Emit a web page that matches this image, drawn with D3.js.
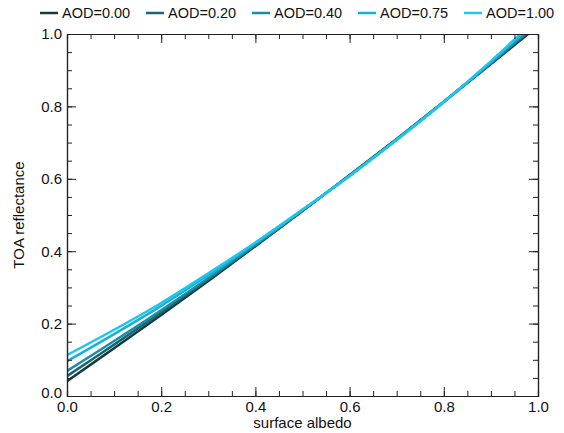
<!DOCTYPE html>
<html>
<head>
<meta charset="utf-8">
<script src="https://cdn.jsdelivr.net/npm/d3@7"></script>
<style>
  body { margin: 0; background: #fff; }
  svg { display: block; font-family: "Liberation Sans", Arial, sans-serif; }
</style>
</head>
<body>
<svg id="chart" width="564" height="433"></svg>
<script>
// surface albedo samples
const albedo = [0.0, 0.1, 0.2, 0.3, 0.4, 0.5, 0.6, 0.7, 0.8, 0.9, 1.0];

// TOA reflectance, one list per AOD
const aodLabels = ['AOD=0.00', 'AOD=0.20', 'AOD=0.40', 'AOD=0.75', 'AOD=1.00'];
const toa000 = [0.041, 0.132, 0.224, 0.318, 0.414, 0.511, 0.610, 0.710, 0.813, 0.917, 1.022];
const toa020 = [0.055, 0.142, 0.231, 0.322, 0.416, 0.512, 0.610, 0.709, 0.813, 0.919, 1.027];
const toa040 = [0.069, 0.152, 0.237, 0.326, 0.418, 0.513, 0.609, 0.709, 0.813, 0.920, 1.031];
const toa075 = [0.096, 0.171, 0.249, 0.334, 0.422, 0.514, 0.608, 0.708, 0.812, 0.923, 1.040];
const toa100 = [0.113, 0.183, 0.257, 0.339, 0.424, 0.515, 0.608, 0.707, 0.812, 0.925, 1.046];
const seriesColors = ['#133c3c', '#1b6472', '#1b8ca8', '#14b2d8', '#1cc6ee'];

const majorTicks = [0.0, 0.2, 0.4, 0.6, 0.8, 1.0];
const minorTicks = d3.range(0, 1.0001, 0.05);

const series = [toa000, toa020, toa040, toa075, toa100].map((vals, i) => ({
  label: aodLabels[i],
  color: seriesColors[i],
  points: vals.map((v, j) => ({x: albedo[j], y: v}))
}));

const margin = {top: 34, right: 26, bottom: 37, left: 67};
const width = 564, height = 433;

const xScale = d3.scaleLinear().domain([0, 1]).range([margin.left, width - margin.right]);
const yScale = d3.scaleLinear().domain([0, 1]).range([height - margin.bottom, margin.top]);

const svg = d3.select('#chart');

svg.append('defs').append('clipPath').attr('id', 'plotClip')
  .append('rect')
  .attr('x', xScale(0)).attr('y', yScale(1))
  .attr('width', xScale(1) - xScale(0)).attr('height', yScale(0) - yScale(1));

// curves
const line = d3.line().x(d => xScale(d.x)).y(d => yScale(d.y)).curve(d3.curveCatmullRom);

svg.append('g').attr('clip-path', 'url(#plotClip)')
  .selectAll('path').data(series)
  .join('path')
  .attr('fill', 'none')
  .attr('stroke', d => d.color)
  .attr('stroke-width', 2.5)
  .attr('d', d => line(d.points));

// axes: ticks pointing inward on all four sides
const tickMajor = 9, tickMinor = 5;
const fmt = d3.format('.1f');

function drawAxis(gen, pos, withLabels) {
  const gMinor = svg.append('g').attr('transform', pos);
  gMinor.call(gen.tickValues(minorTicks).tickSize(-tickMinor).tickFormat(''));
  const gMajor = svg.append('g').attr('transform', pos);
  gMajor.call(gen.tickValues(majorTicks).tickSize(-tickMajor).tickSizeOuter(0)
    .tickFormat(withLabels ? fmt : ''));
  return gMajor;
}

const axBottom = drawAxis(d3.axisBottom(xScale), `translate(0,${yScale(0)})`, true);
drawAxis(d3.axisTop(xScale), `translate(0,${yScale(1)})`, false);
const axLeft = drawAxis(d3.axisLeft(yScale), `translate(${xScale(0)},0)`, true);
drawAxis(d3.axisRight(yScale), `translate(${xScale(1)},0)`, false);

svg.selectAll('.domain').attr('stroke', '#222').attr('stroke-width', 1.2);
svg.selectAll('.tick line').attr('stroke', '#222').attr('stroke-width', 1);
svg.selectAll('.tick text').attr('font-size', 15).attr('fill', '#111')
  .attr('font-family', '"Liberation Sans", Arial, sans-serif');

axBottom.selectAll('.tick text').attr('y', 5);
axLeft.selectAll('.tick text').attr('x', -5);
// lift the lowest y label a little so it clears the x label "0.0"
axLeft.selectAll('.tick text').filter(d => d === 0).attr('dy', '0.1em');

// axis titles
svg.append('text')
  .attr('x', (xScale(0) + xScale(1)) / 2).attr('y', 428)
  .attr('text-anchor', 'middle').attr('font-size', 15).attr('fill', '#111')
  .text('surface albedo');

svg.append('text')
  .attr('transform', `translate(24,${(yScale(0) + yScale(1)) / 2}) rotate(-90)`)
  .attr('text-anchor', 'middle').attr('font-size', 15).attr('fill', '#111')
  .text('TOA reflectance');

// legend across the top
const legendX = d3.scalePoint().domain(aodLabels).range([62, 486]);
const legend = svg.append('g').selectAll('g').data(series).join('g')
  .attr('transform', d => `translate(${legendX(d.label)},13)`);

legend.append('line')
  .attr('x1', -22).attr('x2', -4)
  .attr('stroke', d => d.color).attr('stroke-width', 2.5);

legend.append('text')
  .attr('x', 0).attr('dy', '0.35em')
  .attr('font-size', 14.5).attr('fill', '#111')
  .text(d => d.label);
</script>
</body>
</html>
